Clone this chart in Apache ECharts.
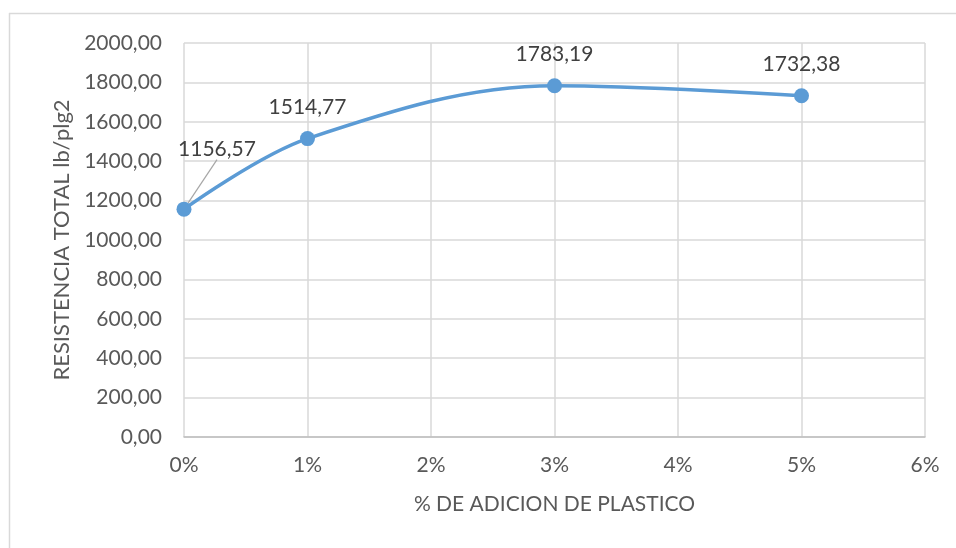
<!DOCTYPE html>
<html>
<head>
<meta charset="utf-8">
<script src="https://cdn.jsdelivr.net/npm/echarts@6/dist/echarts.min.js"></script>
<style>
html,body{margin:0;padding:0;background:#fff;}
#chart{width:956px;height:548px;}
</style>
</head>
<body>
<div id="chart"></div>
<script>
var xValues = [0, 1, 3, 5];
var yValues = [1156.57, 1514.77, 1783.19, 1732.38];
var xTickMax = 6;
var yTickMax = 2000;
var xTitle = '% DE ADICION DE PLASTICO';
var yTitle = 'RESISTENCIA TOTAL lb/plg2';

var FONT = 'Lato';
function fmt(v){ return v.toFixed(2).replace('.', ','); }

var seriesData = xValues.map(function(x, i){
  var item = { value: [x, yValues[i]] };
  if (i === 0) item.labelLine = { show: true };
  return item;
});

var chart = echarts.init(document.getElementById('chart'));
chart.setOption({
  animation: false,
  backgroundColor: '#fff',
  textStyle: { fontFamily: FONT },
  grid: { left: 184, right: 31, top: 43, bottom: 111 },
  graphic: [
    { type: 'line', shape: { x1: 9, y1: 13.5, x2: 956, y2: 13.5 }, style: { stroke: '#D9D9D9', lineWidth: 1.5 }, silent: true },
    { type: 'line', shape: { x1: 9.5, y1: 13, x2: 9.5, y2: 548 }, style: { stroke: '#D9D9D9', lineWidth: 1.5 }, silent: true }
  ],
  xAxis: {
    type: 'value', min: 0, max: xTickMax, interval: 1,
    name: xTitle, nameLocation: 'middle', nameGap: 57,
    nameTextStyle: { fontFamily: FONT, fontSize: 21, color: '#595959' },
    axisLine: { show: true, lineStyle: { color: '#BFBFBF', width: 1.5 } },
    axisTick: { show: false },
    splitLine: { show: true, lineStyle: { color: '#D9D9D9', width: 1.5 } },
    axisLabel: { margin: 18, fontFamily: FONT, fontSize: 21, color: '#595959', formatter: function(v){ return v + '%'; } }
  },
  yAxis: {
    type: 'value', min: 0, max: yTickMax, interval: 200,
    name: yTitle, nameLocation: 'middle', nameRotate: 90, nameGap: 110,
    nameTextStyle: { fontFamily: FONT, fontSize: 22, color: '#595959' },
    axisLine: { show: false },
    axisTick: { show: false },
    splitLine: { show: true, lineStyle: { color: '#D9D9D9', width: 1.5 } },
    axisLabel: { margin: 22, fontFamily: FONT, fontSize: 21, color: '#595959', formatter: function(v){ return fmt(v); } }
  },
  series: [{
    type: 'line',
    data: seriesData,
    smooth: 0.35,
    symbol: 'circle',
    symbolSize: 15,
    lineStyle: { color: '#5B9BD5', width: 3.5 },
    itemStyle: { color: '#5B9BD5' },
    label: {
      show: true, position: 'top', distance: 13,
      fontFamily: FONT, fontSize: 21, color: '#404040',
      formatter: function(p){ return fmt(p.value[1]); }
    },
    labelLine: { show: false, lineStyle: { color: '#A6A6A6', width: 1.2 } },
    labelLayout: function(p){
      if (p.dataIndex === 0) return { dx: 33, dy: -29 };
      return {};
    }
  }]
});
</script>
</body>
</html>
